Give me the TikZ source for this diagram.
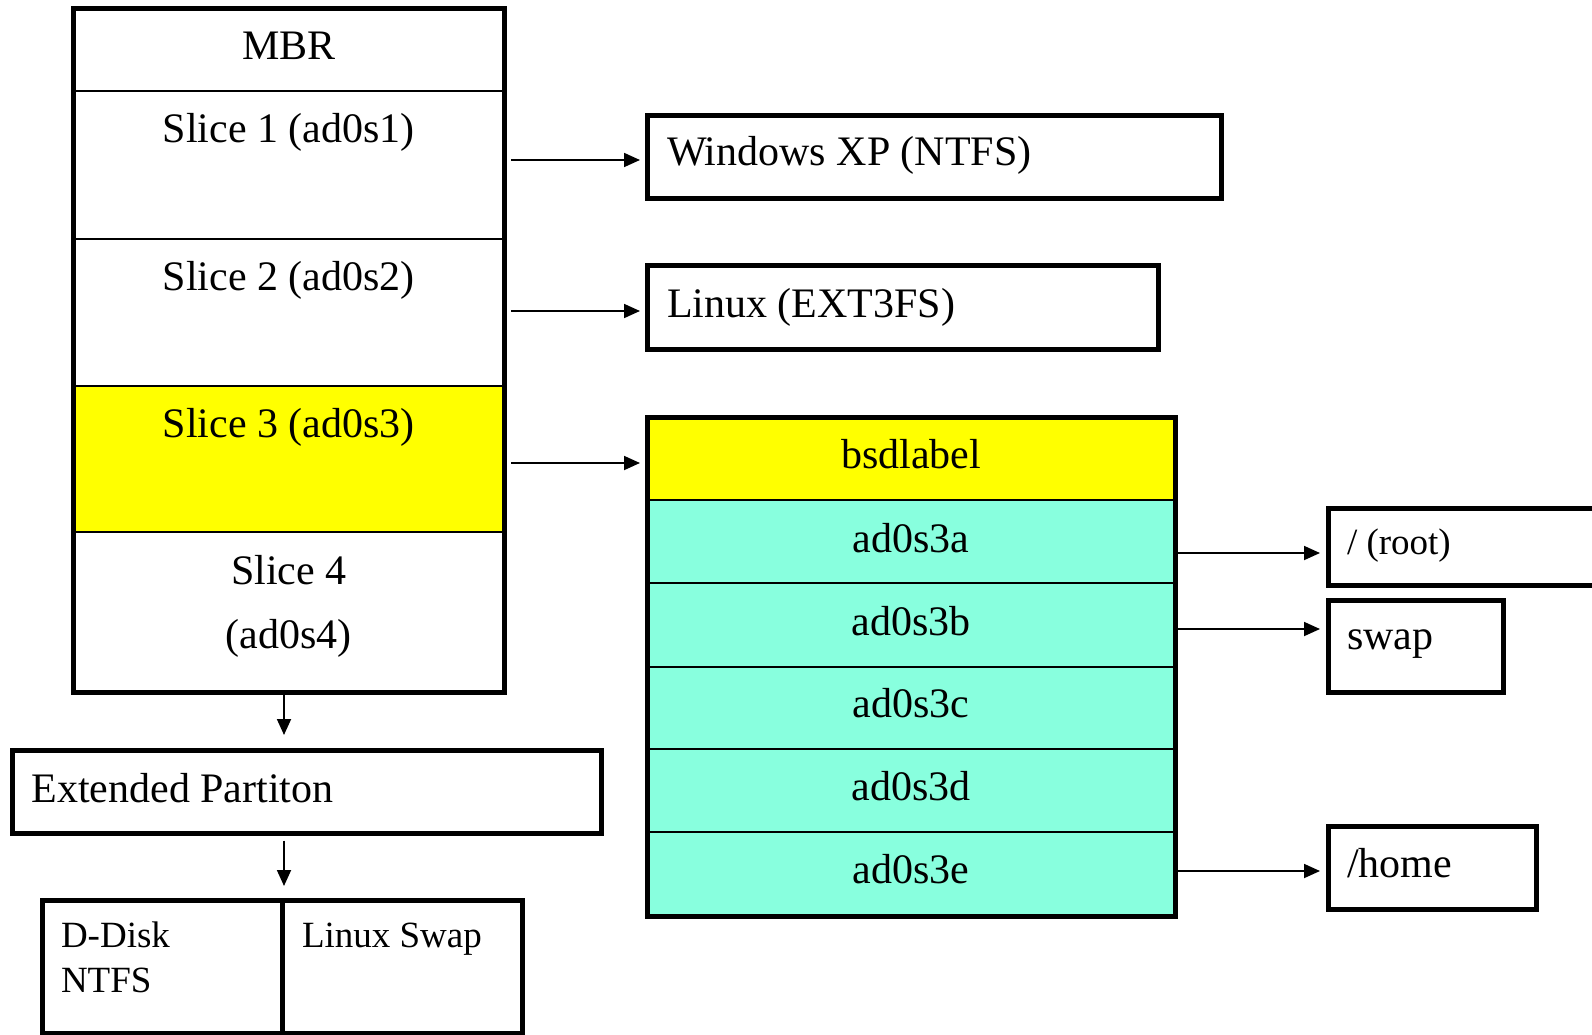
\documentclass[tikz,border=0pt]{standalone}
\usepackage{fontspec}
\setmainfont{Liberation Serif}
\usetikzlibrary{arrows.meta,calc}
\definecolor{bsdyellow}{RGB}{255,255,0}
\definecolor{aqua}{RGB}{136,255,222}
\tikzset{
 cell/.style={draw, line width=2.5pt, inner sep=0pt, outer sep=0pt, anchor=north west},
 outline/.style={draw, line width=5pt, inner sep=0pt, outer sep=0pt, anchor=north west},
 big/.style={font=\fontsize{42}{48}\selectfont, inner sep=0pt, outer sep=0pt},
 small/.style={font=\fontsize{37}{44}\selectfont, inner sep=0pt, outer sep=0pt},
 arr/.style={line width=1.8pt, -{Triangle[length=16pt,width=14pt]}},
}
\begin{document}
\begin{tikzpicture}[x=1pt,y=-1pt]
\useasboundingbox (0,0) rectangle (1592,1035);
% MBR stack
\node[cell, minimum width=430.5pt, minimum height=82pt] (mbr) at (73.5,9) {};
\node[cell, minimum width=430.5pt, minimum height=148pt] (s1) at (73.5,91) {};
\node[cell, minimum width=430.5pt, minimum height=147pt] (s2) at (73.5,239) {};
\node[cell, fill=bsdyellow, minimum width=430.5pt, minimum height=146pt] (s3) at (73.5,386) {};
\node[cell, minimum width=430.5pt, minimum height=160.5pt] (s4) at (73.5,532) {};
\node[outline, minimum width=430.5pt, minimum height=683.5pt] (mbrbox) at (73.5,9) {};
\node[big, anchor=base] (tmbr) at (288.75,60) {MBR};
\node[big, anchor=base] (ts1) at (288.75,143) {Slice 1 (ad0s1)};
\node[big, anchor=base] (ts2) at (288.75,290) {Slice 2 (ad0s2)};
\node[big, anchor=base] (ts3) at (288.75,437) {Slice 3 (ad0s3)};
\node[big, anchor=base] (ts4) at (288.75,584) {Slice 4};
\node[big, anchor=base] (ts4b) at (288.75,648) {(ad0s4)};
% right boxes
\node[outline, minimum width=574.5pt, minimum height=83pt] (win) at (647,115.5) {};
\node[big, anchor=base west] (twin) at (667,166) {Windows XP (NTFS)};
\node[outline, minimum width=511.5pt, minimum height=84pt] (lin) at (647,265.5) {};
\node[big, anchor=base west] (tlin) at (667,317) {Linux (EXT3FS)};
% bsdlabel stack
\node[cell, fill=bsdyellow, minimum width=528pt, minimum height=83pt] (bsd) at (647,417) {};
\node[cell, fill=aqua, minimum width=528pt, minimum height=83pt] (ra) at (647,500) {};
\node[cell, fill=aqua, minimum width=528pt, minimum height=84pt] (rb) at (647,583) {};
\node[cell, fill=aqua, minimum width=528pt, minimum height=82pt] (rc) at (647,667) {};
\node[cell, fill=aqua, minimum width=528pt, minimum height=83pt] (rd) at (647,749) {};
\node[cell, fill=aqua, minimum width=528pt, minimum height=84pt] (re) at (647,832) {};
\node[outline, minimum width=528pt, minimum height=499pt] (stack) at (647,417) {};
\node[big, anchor=base] (tbsd) at (911,468) {bsdlabel};
\node[big, anchor=base] (tra) at (911,552) {ad0s3a};
\node[big, anchor=base] (trb) at (911,635) {ad0s3b};
\node[big, anchor=base] (trc) at (911,717) {ad0s3c};
\node[big, anchor=base] (trd) at (911,800) {ad0s3d};
\node[big, anchor=base] (tre) at (911,883) {ad0s3e};
% mount boxes
\node[outline, minimum width=292pt, minimum height=77pt] (root) at (1328,508) {};
\node[small, anchor=base west] (troot) at (1347,554) {/ (root)};
\node[outline, minimum width=175pt, minimum height=92pt] (swap) at (1328,600) {};
\node[big, anchor=base west] (tswap) at (1347,649) {swap};
\node[outline, minimum width=208pt, minimum height=82.5pt] (home) at (1328,826.5) {};
\node[big, anchor=base west] (thome) at (1347,877) {/home};
% extended partition
\node[outline, minimum width=589.5pt, minimum height=83.5pt] (ext) at (12,750) {};
\node[big, anchor=base west] (text) at (31.5,802) {Extended Partiton};
\node[outline, minimum width=240pt, minimum height=132.5pt] (dd) at (42,900.5) {};
\node[outline, minimum width=240.5pt, minimum height=132.5pt] (ls) at (282,900.5) {};
\node[small, anchor=base west] (tdd) at (61,947) {D-Disk};
\node[small, anchor=base west] (tntfs) at (61,992) {NTFS};
\node[small, anchor=base west] (tls) at (302,947) {Linux Swap};
% arrows
\coordinate (p1) at ([xshift=7pt,yshift=5pt]s1.east);
\coordinate (p2) at ([xshift=7pt,yshift=1.5pt]s2.east);
\coordinate (p3) at ([xshift=7pt,yshift=-4pt]s3.east);
\draw[arr, shorten >=7pt] (p1) -- (p1 -| win.west);
\draw[arr, shorten >=7pt] (p2) -- (p2 -| lin.west);
\draw[arr, shorten >=7pt] (p3) -- (p3 -| bsd.west);
\coordinate (q1) at ([xshift=3pt,yshift=-11.5pt]ra.east);
\coordinate (q2) at ([xshift=3pt,yshift=-4pt]rb.east);
\coordinate (q3) at ([xshift=3pt,yshift=3pt]re.east);
\draw[arr, shorten >=8pt] (q1) -- (q1 -| root.west);
\draw[arr, shorten >=8pt] (q2) -- (q2 -| swap.west);
\draw[arr, shorten >=8pt] (q3) -- (q3 -| home.west);
\coordinate (v1) at ([xshift=-4.75pt]mbrbox.south);
\coordinate (v2) at ($(ext.south -| v1)+(0,7)$);
\draw[arr, shorten >=15pt] (v1) -- (v1 |- ext.north);
\draw[arr, shorten >=14.5pt] (v2) -- (v2 |- dd.north);
\end{tikzpicture}
\end{document}
